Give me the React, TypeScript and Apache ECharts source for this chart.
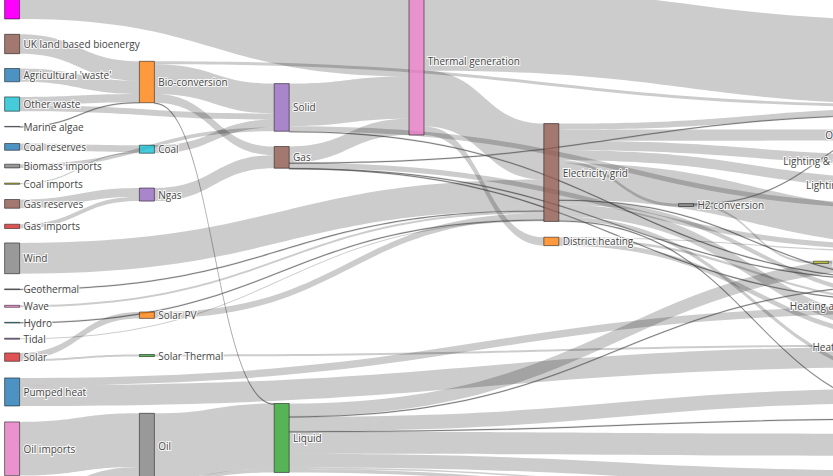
import React, { useEffect, useRef } from "react";
import * as echarts from "echarts";

// ---- data (UK energy 2050 forecast, TWh) ----
const nodeNames = [
  "Agricultural 'waste'", "Bio-conversion", "Liquid", "Losses", "Solid", "Gas",
  "Biofuel imports", "Biomass imports", "Coal imports", "Coal", "Coal reserves",
  "District heating", "Industry", "Heating and cooling - commercial",
  "Heating and cooling - homes", "Electricity grid", "Over generation / exports",
  "H2 conversion", "Road transport", "Agriculture", "Rail transport",
  "Lighting & appliances - commercial", "Lighting & appliances - homes",
  "Gas imports", "Ngas", "Gas reserves", "Thermal generation", "Geothermal", "H2",
  "Hydro", "International shipping", "Domestic aviation", "International aviation",
  "National navigation", "Marine algae", "Nuclear", "Oil imports", "Oil",
  "Oil reserves", "Other waste", "Pumped heat", "Solar PV", "Solar Thermal",
  "Solar", "Tidal", "UK land based bioenergy", "Wave", "Wind",
];

const nodeColumns = [
  0, 1, 2, 7, 2, 2, 0, 0, 0, 1, 0, 4, 7, 7, 7, 4, 7, 5, 7, 7, 7, 7, 7, 0, 1, 0, 3, 0, 6,
  0, 7, 7, 7, 7, 0, 0, 0, 1, 0, 0, 0, 1, 1, 0, 0, 0, 0, 0,
];

const palette = [
  "rgba(31, 119, 180, 0.8)", "rgba(255, 127, 14, 0.8)", "rgba(44, 160, 44, 0.8)",
  "rgba(214, 39, 40, 0.8)", "rgba(148, 103, 189, 0.8)", "rgba(140, 86, 75, 0.8)",
  "rgba(227, 119, 194, 0.8)", "rgba(127, 127, 127, 0.8)", "rgba(188, 189, 34, 0.8)",
  "rgba(23, 190, 207, 0.8)",
];
const nodeColors = nodeNames.map((name, i) => (name === "Nuclear" ? "magenta" : palette[i % 10]));

const linkSources = [
  0, 1, 1, 1, 1, 6, 7, 8, 10, 9, 11, 11, 11, 15, 15, 15, 15, 15, 15, 15, 15, 15, 15, 15,
  23, 25, 5, 5, 5, 5, 5, 27, 17, 17, 28, 29, 2, 2, 2, 2, 2, 2, 2, 2, 34, 24, 35, 36, 38,
  37, 39, 39, 40, 40, 41, 42, 43, 43, 4, 4, 4, 26, 26, 26, 44, 45, 46, 47,
];
const linkTargets = [
  1, 2, 3, 4, 5, 2, 4, 9, 9, 4, 12, 13, 14, 16, 14, 17, 12, 18, 19, 13, 3, 20, 21, 22,
  24, 24, 13, 3, 26, 19, 12, 15, 28, 3, 18, 15, 12, 30, 18, 31, 32, 19, 33, 20, 1, 5, 26,
  37, 37, 2, 4, 1, 14, 13, 15, 14, 42, 41, 19, 26, 12, 15, 3, 11, 15, 1, 15, 15,
];
const linkValues = [
  124.729, 0.597, 26.862, 280.322, 81.144, 35, 35, 11.606, 63.965, 75.571, 10.639,
  22.505, 46.184, 104.453, 113.726, 27.14, 342.165, 37.797, 4.412, 40.858, 56.691,
  7.863, 90.008, 93.494, 40.719, 82.233, 0.129, 1.401, 151.891, 2.096, 48.58, 7.013,
  20.897, 6.242, 20.897, 6.995, 121.066, 128.69, 135.835, 14.458, 206.267, 3.64,
  33.218, 4.413, 4.375, 122.952, 839.978, 504.287, 107.703, 611.99, 56.587, 77.81,
  193.026, 70.672, 59.901, 19.263, 19.263, 59.901, 0.882, 400.12, 46.477, 525.531,
  787.129, 79.329, 9.452, 182.01, 19.013, 289.366,
];

// ---- layout (pixels; the view is a crop of a wider plot) ----
const nodeTopPx: Record<string, number> = {
  "Nuclear": -70.5, "UK land based bioenergy": 34.3, "Agricultural 'waste'": 68.5,
  "Other waste": 96.9, "Marine algae": 126.4, "Coal reserves": 143.5,
  "Biomass imports": 164.2, "Coal imports": 183.1, "Gas reserves": 199.5,
  "Gas imports": 224.2, "Wind": 242.9, "Geothermal": 288.9, "Wave": 305.3,
  "Hydro": 322.3, "Tidal": 338.2, "Solar": 352.9, "Pumped heat": 377.9,
  "Oil imports": 421.9, "Oil reserves": 490.6, "Biofuel imports": 517.1,
  "Bio-conversion": 61.3, "Coal": 145.2, "Ngas": 188.0, "Solar PV": 312.0,
  "Solar Thermal": 354.5, "Oil": 413.3,
  "Solid": 83.6, "Gas": 146.5, "Liquid": 403.5,
  "Thermal generation": -13.2,
  "Electricity grid": 123.6, "District heating": 237.2,
  "H2 conversion": 203.6, "H2": 261.2,
  "Losses": 20.9, "Over generation / exports": 129.4,
  "Lighting & appliances - commercial": 155.9, "Lighting & appliances - homes": 180.0,
  "Industry": 205.0, "Agriculture": 281.5, "Heating and cooling - commercial": 298.6,
  "Heating and cooling - homes": 327.3, "Road transport": 381.9, "Rail transport": 417.6,
  "International aviation": 433.9, "International shipping": 470.9,
  "Domestic aviation": 499.6, "National navigation": 516.1,
};

const COLUMN_X0 = 4.6;
const COLUMN_STEP = 134.8;
const NODE_W = 15;
const PX_PER_UNIT = 0.1065;
const VIEW_W = 833;
const VIEW_H = 476;
const LAST_COLUMN = 7;
const LABEL_FONT = "10px 'Open Sans'";
const LABEL_GAP_RIGHT = 3.6;
const LABEL_GAP_LEFT = 2.7;

function measure(text: string): number {
  const c = document.createElement("canvas").getContext("2d");
  if (!c) return text.length * 5.5;
  c.font = LABEL_FONT;
  return c.measureText(text).width;
}

export default function App() {
  const ref = useRef<HTMLDivElement>(null);

  useEffect(() => {
    if (!ref.current) return;
    const chart = echarts.init(ref.current, null, { renderer: "svg" });

    const n = nodeNames.length;
    const inSum = new Array(n).fill(0);
    const outSum = new Array(n).fill(0);
    linkValues.forEach((v, i) => {
      outSum[linkSources[i]] += v;
      inSum[linkTargets[i]] += v;
    });
    const nodeValue = nodeNames.map((_, i) => Math.max(inSum[i], outSum[i]));
    const maxValue = Math.max(...nodeValue);
    // each node gets its own internal layer, so ky = seriesH / maxValue
    const seriesH = PX_PER_UNIT * maxValue;

    const topOf = (i: number) => nodeTopPx[nodeNames[i]];
    const order = linkValues
      .map((_, i) => i)
      .sort(
        (a, b) =>
          topOf(linkSources[a]) - topOf(linkSources[b]) ||
          topOf(linkTargets[a]) - topOf(linkTargets[b]) ||
          a - b
      );

    const nodes = nodeNames.map((name, i) => {
      const col = nodeColumns[i];
      const x = COLUMN_X0 + col * COLUMN_STEP;
      const isLast = col === LAST_COLUMN;
      const cy = topOf(i) + (nodeValue[i] * PX_PER_UNIT) / 2;
      const w = measure(name);
      const x0 = isLast ? x - LABEL_GAP_LEFT - w : x + NODE_W + LABEL_GAP_RIGHT;
      const visible = cy > -7 && cy < VIEW_H + 7 && x0 < VIEW_W && x0 + w > 0;
      return {
        name,
        depth: i,
        localX: x / VIEW_W,
        localY: topOf(i) / seriesH,
        itemStyle: { color: nodeColors[i] },
        label: {
          show: visible,
          position: isLast ? "left" : "right",
          distance: isLast ? LABEL_GAP_LEFT : LABEL_GAP_RIGHT,
        },
      };
    });

    const links = order.map((i) => {
      const v = linkValues[i];
      const thin = v * PX_PER_UNIT < 1;
      return {
        source: nodeNames[linkSources[i]],
        target: nodeNames[linkTargets[i]],
        value: v,
        lineStyle: thin
          ? { color: "rgb(80,80,80)", opacity: 0.7, borderColor: "rgb(80,80,80)", borderWidth: 0.25 }
          : { color: "#000", opacity: 0.2 },
      };
    });

    chart.setOption({
      animation: false,
      backgroundColor: "#fff",
      series: [
        {
          type: "sankey",
          left: 0,
          top: 0,
          width: VIEW_W,
          height: seriesH,
          nodeWidth: NODE_W,
          nodeGap: 0,
          nodeAlign: "left",
          layoutIterations: 0,
          draggable: false,
          emphasis: { disabled: true },
          data: nodes,
          links,
          itemStyle: { borderColor: "#000", borderWidth: 0.5 },
          lineStyle: { curveness: 0.5 },
          label: {
            show: true,
            fontFamily: "Open Sans",
            fontSize: 10,
            color: "#444",
            textBorderColor: "rgba(255,255,255,0.9)",
            textBorderWidth: 2,
          },
        },
      ],
    });

    return () => chart.dispose();
  }, []);

  return (
    <div
      ref={ref}
      style={{ position: "fixed", left: 0, top: 0, width: VIEW_W, height: VIEW_H }}
    />
  );
}
